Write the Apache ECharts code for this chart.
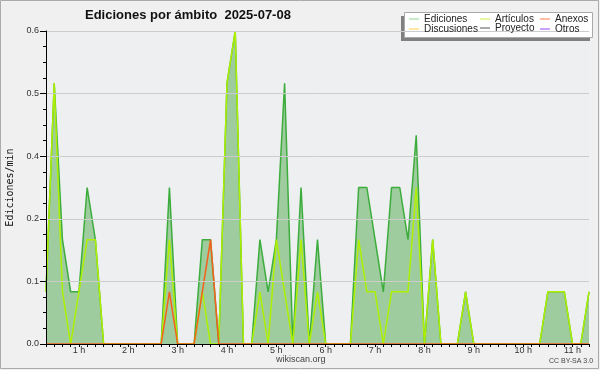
<!DOCTYPE html>
<html>
<head>
<meta charset="utf-8">
<script src="https://cdn.jsdelivr.net/npm/echarts@6/dist/echarts.min.js"></script>
<style>html,body{margin:0;padding:0;background:#f0f0f0}#c{width:600px;height:370px}</style>
</head>
<body>
<div id="c"></div>
<script>
// 10-minute bins from 00:20 to 11:20
const times = [];
for (let m = 20; m <= 680; m += 10) {
  const h = Math.floor(m / 60), mm = m % 60;
  times.push(h + ':' + (mm < 10 ? '0' : '') + mm);
}
const ediciones = [0.1,0.5,0.2,0.1,0.1,0.3,0.2,0,0,0,0,0,0,0,0,0.3,0,0,0,0.2,0.2,0,0.5,0.6,0,0,0.2,0.1,0.2,0.5,0,0.3,0,0.2,0,0,0,0,0.3,0.3,0.2,0.1,0.3,0.3,0.2,0.4,0,0.2,0,0,0,0.1,0,0,0,0,0,0,0,0,0,0.1,0.1,0.1,0,0,0.1];
const articulos = [0.1,0.5,0.1,0,0.1,0.2,0.2,0,0,0,0,0,0,0,0,0.2,0,0,0,0.1,0,0,0.5,0.6,0,0,0.1,0,0.2,0.1,0,0.2,0,0.1,0,0,0,0,0.2,0.1,0.1,0,0.1,0.1,0.1,0.3,0,0.2,0,0,0,0.1,0,0,0,0,0,0,0,0,0,0.1,0.1,0.1,0,0,0.1];
const anexos = [0,0,0,0,0,0,0,0,0,0,0,0,0,0,0,0.1,0,0,0,0.1,0.2,0,0,0,0,0,0,0,0,0,0,0,0,0,0,0,0,0,0,0,0,0,0,0,0,0,0,0,0,0,0,0,0,0,0,0,0,0,0,0,0,0,0,0,0,0,0];

const chart = echarts.init(document.getElementById('c'), null, {renderer: 'canvas'});
const lf = 'Liberation Sans';
function leg(name, color, left, top) {
  return {
    show: true, left: left, top: top, orient: 'horizontal', padding: 0,
    selectedMode: false, icon: 'rect', itemWidth: 10, itemHeight: 1, itemGap: 0,
    textStyle: {fontFamily: lf, fontSize: 10, color: '#222', padding: [0, 0, 0, 0]},
    data: [{name: name, itemStyle: {color: color}}]
  };
}
chart.setOption({
  backgroundColor: '#f0f0f0',
  animation: false,
  title: {
    text: 'Ediciones por ámbito  2025-07-08', left: 80, top: 4,
    textStyle: {fontFamily: lf, fontSize: 13, fontWeight: 'bold', color: '#111'}
  },
  graphic: [
    {type: 'rect', shape: {x: 0.5, y: 0.5, width: 598, height: 368}, style: {fill: 'none', stroke: '#aaa', lineWidth: 1}, z: 0},
    {type: 'rect', shape: {x: 401, y: 16, width: 189, height: 25}, style: {fill: '#808080'}, z: 1},
    {type: 'rect', shape: {x: 404.5, y: 12.5, width: 188, height: 25}, style: {fill: '#ffffff', stroke: '#aaaaaa', lineWidth: 1}, z: 2},
    {type: 'text', left: 276, top: 355, style: {text: 'wikiscan.org', fontFamily: lf, fontSize: 9, fill: '#444'}, z: 5},
    {type: 'text', left: 549, top: 358, style: {text: 'CC BY-SA 3.0', fontFamily: lf, fontSize: 7, fill: '#444'}, z: 5}
  ],
  legend: [
    leg('Ediciones', '#8fd48f', 409, 14),
    leg('Discusiones', '#ffd04a', 409, 24),
    leg('Artículos', '#ccf040', 480, 14),
    leg('Proyecto', '#555555', 480, 23),
    leg('Anexos', '#ff7a45', 540, 14),
    leg('Otros', '#9a44ff', 540, 24)
  ],
  grid: {left: 46, right: 11, top: 31, bottom: 26, containLabel: false, outerBoundsMode: 'none',
         show: true, backgroundColor: '#eeeff1', borderWidth: 0},
  xAxis: {
    type: 'category', data: times, boundaryGap: false, z: 3,
    axisLine: {lineStyle: {color: '#000', width: 1}},
    axisTick: {show: true, interval: 0, length: 3, lineStyle: {color: '#000'}},
    axisLabel: {
      interval: 0, margin: 2, fontFamily: lf, fontSize: 9, color: '#333',
      formatter: function (v) { const p = v.split(':'); return p[1] === '00' ? p[0] + ' h' : ''; }
    },
    splitLine: {show: false}
  },
  yAxis: {
    type: 'value', min: 0, max: 0.6, interval: 0.12, z: 3,
    name: 'Ediciones/min', nameLocation: 'middle', nameGap: 31, nameRotate: 90,
    nameTextStyle: {fontFamily: 'DejaVu Sans Mono', fontSize: 10, color: '#111'},
    axisLine: {show: true, lineStyle: {color: '#000', width: 1}},
    axisTick: {show: true, length: 6, lineStyle: {color: '#000'}},
    minorTick: {show: true, splitNumber: 4, length: 3, lineStyle: {color: '#000'}},
    axisLabel: {margin: 7, fontFamily: lf, fontSize: 9, color: '#333', formatter: function (v) { return v.toFixed(1); }},
    splitLine: {show: true, lineStyle: {color: '#cccccc', width: 1}}
  },
  series: [
    {name: 'Ediciones', type: 'line', data: ediciones, symbol: 'none', z: 1,
     lineStyle: {color: '#3cad3c', width: 1.5}, itemStyle: {color: '#3cad3c'},
     areaStyle: {color: '#9ecc9e', opacity: 1}},
    {name: 'Artículos', type: 'line', data: articulos, symbol: 'none', z: 2,
     lineStyle: {color: '#aef000', width: 1.5}, itemStyle: {color: '#aef000'}},
    {name: 'Anexos', type: 'line', data: anexos, symbol: 'none', z: 2,
     lineStyle: {color: '#f5601a', width: 1.5}, itemStyle: {color: '#f5601a'}},
    {name: 'Discusiones', type: 'line', data: [], symbol: 'none'},
    {name: 'Proyecto', type: 'line', data: [], symbol: 'none'},
    {name: 'Otros', type: 'line', data: [], symbol: 'none'}
  ]
});
</script>
</body>
</html>
